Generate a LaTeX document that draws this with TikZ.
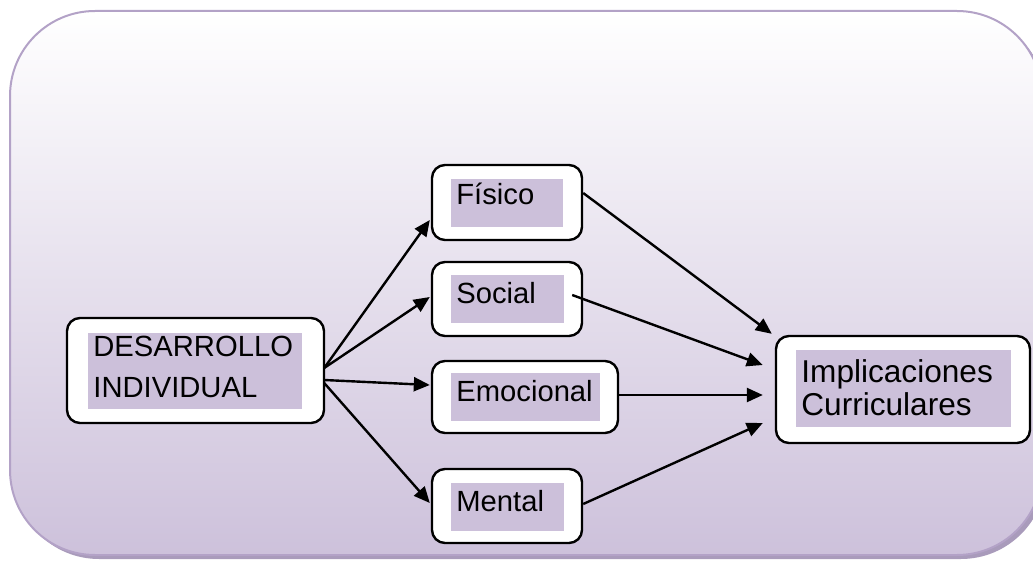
\documentclass[tikz,border=0pt]{standalone}
\usepackage{fontspec}
\setmainfont{Liberation Sans}
\usetikzlibrary{arrows.meta,calc}
\definecolor{lav}{HTML}{CCC0DA}
\definecolor{lavbot}{HTML}{CDC1DB}
\definecolor{lavline}{HTML}{B3A2C7}
\definecolor{lavshadow}{HTML}{A99BBB}
\begin{document}
\begin{tikzpicture}[x=0.5pt,y=-0.5pt,
  wbox/.style={draw=black, line width=1.2pt, fill=white, rounded corners=6.5pt, inner sep=0pt},
  pbox/.style={fill=lav, inner sep=0pt, draw=none},
  lbl/.style={inner sep=0pt, anchor=base west, font=\fontsize{14.6}{17}\selectfont},
  lblbig/.style={lbl, font=\fontsize{15.8}{18}\selectfont},
  conn/.style={line width=1.2pt, -{Triangle[length=8pt,width=7pt]}}]
\useasboundingbox (0,0) rectangle (1033,561);
% background panel
\fill[lavshadow, rounded corners=42.5pt] (14,15) rectangle (1046,559);
\shade[top color=white, bottom color=lavbot, rounded corners=42.5pt] (10,11) rectangle (1042,555);
\draw[lavline, line width=1pt, rounded corners=42.5pt] (10,11) rectangle (1042,555);
% boxes
\node[wbox, minimum width=128.5pt, minimum height=52.5pt] (des) at (195.5,370.5) {};
\node[pbox, minimum width=107pt, minimum height=38pt] (desp) at (195,371) {};
\node[lbl] (dest1) at (93,357) {DESARROLLO};
\node[lbl] (dest2) at (93,397) {INDIVIDUAL};

\node[wbox, minimum width=75pt, minimum height=37.5pt] (fis) at (507,202.5) {};
\node[pbox, minimum width=56pt, minimum height=24pt] (fisp) at (507,203) {};
\node[lbl] (fist) at (456,205) {Físico};

\node[wbox, minimum width=75pt, minimum height=37pt] (soc) at (507,299) {};
\node[pbox, minimum width=56.5pt, minimum height=24pt] (socp) at (507.5,299) {};
\node[lbl] (soct) at (456,303) {Social};

\node[wbox, minimum width=93pt, minimum height=36pt] (emo) at (525,397) {};
\node[pbox, minimum width=74.5pt, minimum height=24pt] (emop) at (525.5,397) {};
\node[lbl] (emot) at (456,401) {Emocional};

\node[wbox, minimum width=75pt, minimum height=37pt] (men) at (507,506) {};
\node[pbox, minimum width=56.5pt, minimum height=24pt] (menp) at (507.5,507) {};
\node[lbl] (ment) at (456,511) {Mental};

\node[wbox, minimum width=127pt, minimum height=53.5pt] (imp) at (903,389.5) {};
\node[pbox, minimum width=107.5pt, minimum height=38.5pt] (impp) at (903.5,388.5) {};
\node[lblbig] (impt1) at (801,382) {Implicaciones};
\node[lblbig] (impt2) at (801,415) {Curriculares};

% connectors
\draw[conn] ($(des.east)+(-1,-2.5)$) -- ($(fis.west)+(-1,17.5)$);
\draw[conn] ($(des.east)+(-1,-2.5)$) -- ($(soc.west)+(-1,-2)$);
\draw[conn] ($(des.east)+(-1,9.5)$) -- ($(emo.west)+(-1,-12)$);
\draw[conn] ($(des.east)+(-1,12.5)$) -- ($(men.west)+(-1,-3)$);

\draw[conn] ($(fis.east)+(0,-9.5)$) -- ($(imp.north west)+(-3,-1)$);
\draw[conn] ($(soc.east)+(-11,-4)$) -- ($(imp.west)+(-12,-24.5)$);
\draw[conn] ($(emo.east)+(0,-2)$) -- ($(imp.west)+(-12,5.5)$);
\draw[conn] ($(men.east)+(0,-2)$) -- ($(imp.west)+(-12,33.5)$);
\end{tikzpicture}
\end{document}
